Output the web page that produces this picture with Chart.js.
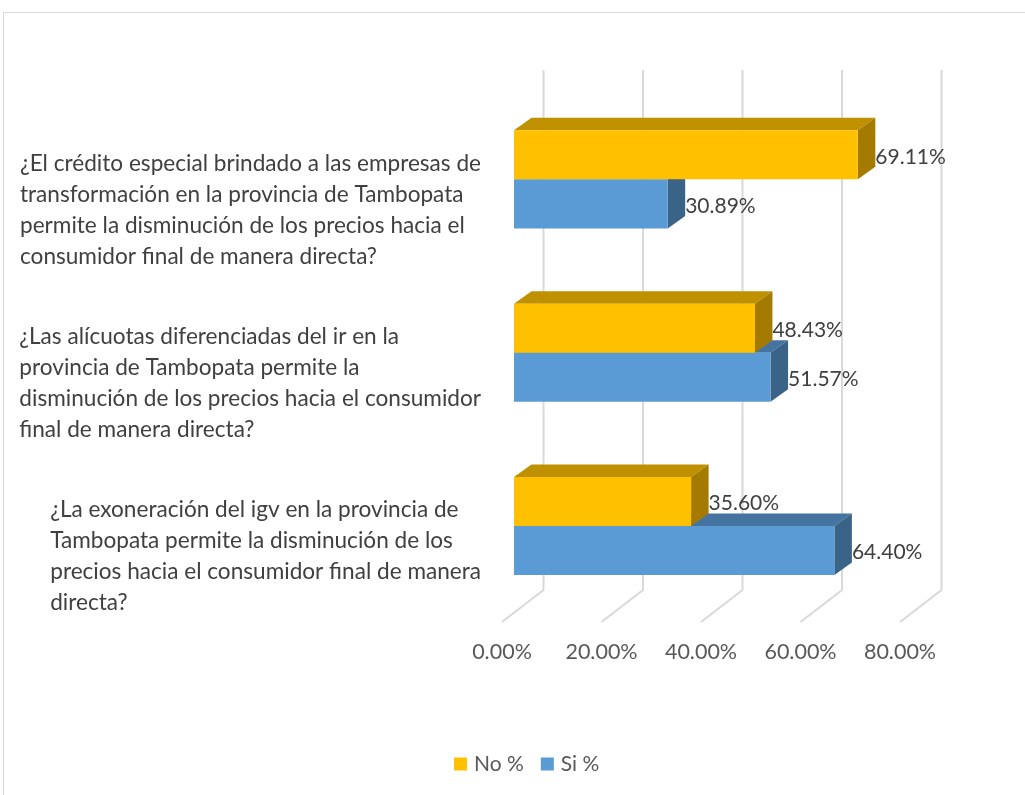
<!DOCTYPE html>
<html>
<head>
<meta charset="utf-8">
<script src="https://cdn.jsdelivr.net/npm/chart.js@4.4.1/dist/chart.umd.min.js"></script>
<style>
  html, body { margin: 0; padding: 0; background: #fff; overflow: hidden; }
  #frame {
    position: absolute; left: 3px; top: 12px; width: 1040px; height: 800px;
    border: 1px solid #d9d9d9; box-sizing: border-box;
  }
  #wrap { position: absolute; left: 0; top: 0; width: 1025px; height: 795px; }
</style>
</head>
<body>
<div id="frame"></div>
<div id="wrap"><canvas id="chart" width="1025" height="795"></canvas></div>
<script>
const categories = [
  ['¿El crédito especial brindado a las empresas de', 'transformación en la provincia de Tambopata', 'permite la disminución de los precios hacia el', 'consumidor final de manera directa?'],
  ['¿Las alícuotas diferenciadas del ir en la', 'provincia de Tambopata permite la', 'disminución de los precios hacia el consumidor', 'final de manera directa?'],
  ['¿La exoneración del igv en la provincia de', 'Tambopata permite la disminución de los', 'precios hacia el consumidor final de manera', 'directa?'],
];
const noValues = [69.11, 48.43, 35.60];
const siValues = [30.89, 51.57, 64.40];
const xTicks = [0, 20, 40, 60, 80];

const FONT = 'Lato, "Open Sans", sans-serif';
const STYLE = {
  no:    { front: '#ffc000', top: '#bf9000', side: '#a47b00' },
  si:    { front: '#5b9bd5', top: '#44749f', side: '#396387' },
  grid:  '#d9d9d9',
  text:  '#404040',
  tick:  '#595959',
};

// depth of the 3D box, measured from the bar front faces
const BAR_D = { x: 17.5, y: -12.5 };   // bar thickness in depth
const BACK_D = { x: 29.5, y: -22.6 };  // back wall
const FRONT_D = { x: -12, y: 9.3 };    // front edge of the floor

const fmt = v => v.toFixed(2) + '%';

function barBox(bar) {
  const p = bar.getProps(['x', 'y', 'base', 'height'], true);
  return { x0: p.base, x1: p.x, y0: p.y - p.height / 2, y1: p.y + p.height / 2 };
}

function poly(ctx, pts, color) {
  ctx.beginPath();
  ctx.moveTo(pts[0][0], pts[0][1]);
  for (let i = 1; i < pts.length; i++) ctx.lineTo(pts[i][0], pts[i][1]);
  ctx.closePath();
  ctx.fillStyle = color;
  ctx.fill();
}

const box3d = {
  id: 'box3d',
  beforeDatasetsDraw(chart) {
    const { ctx, chartArea: a, scales: { x } } = chart;
    ctx.save();
    ctx.strokeStyle = STYLE.grid;
    ctx.lineWidth = 2;
    const backTop = a.top + BACK_D.y;
    const backBottom = a.bottom + BACK_D.y;
    xTicks.forEach(t => {
      const px = x.getPixelForValue(t);
      ctx.beginPath();
      ctx.moveTo(px + BACK_D.x, backTop);
      ctx.lineTo(px + BACK_D.x, backBottom);
      ctx.lineTo(px + FRONT_D.x, a.bottom + FRONT_D.y);
      ctx.stroke();
    });

    // tops and sides, lower series first so the upper bar covers it
    const order = [1, 0];
    order.forEach(di => {
      const st = di === 0 ? STYLE.no : STYLE.si;
      chart.getDatasetMeta(di).data.forEach(bar => {
        const b = barBox(bar);
        poly(ctx, [[b.x0, b.y0], [b.x1, b.y0], [b.x1 + BAR_D.x, b.y0 + BAR_D.y], [b.x0 + BAR_D.x, b.y0 + BAR_D.y]], st.top);
        poly(ctx, [[b.x1, b.y0], [b.x1 + BAR_D.x, b.y0 + BAR_D.y], [b.x1 + BAR_D.x, b.y1 + BAR_D.y], [b.x1, b.y1]], st.side);
      });
    });
    ctx.restore();
  },
  afterDatasetsDraw(chart) {
    const { ctx, chartArea: a, scales: { x, y } } = chart;
    ctx.save();

    // value labels
    ctx.font = '21px ' + FONT;
    ctx.fillStyle = STYLE.text;
    ctx.textBaseline = 'middle';
    ctx.textAlign = 'left';
    chart.data.datasets.forEach((ds, di) => {
      chart.getDatasetMeta(di).data.forEach((bar, i) => {
        const b = barBox(bar);
        ctx.fillText(fmt(ds.data[i]), b.x1 + BAR_D.x, (b.y0 + b.y1) / 2 + 2);
      });
    });

    // x tick labels along the front edge of the floor
    ctx.font = '21.5px ' + FONT;
    ctx.fillStyle = STYLE.tick;
    ctx.textAlign = 'center';
    xTicks.forEach(t => {
      ctx.fillText(fmt(t), x.getPixelForValue(t) + FRONT_D.x, a.bottom + 39);
    });

    // category labels: block right-aligned, lines left-aligned
    ctx.font = '22.6px ' + FONT;
    ctx.fillStyle = STYLE.text;
    ctx.textAlign = 'left';
    const lineH = 31;
    categories.forEach((lines, i) => {
      const w = Math.max(...lines.map(l => ctx.measureText(l).width));
      const left = 481 - w;
      const cy = y.getPixelForValue(i) + 30.5;
      lines.forEach((l, k) => {
        ctx.fillText(l, left, cy + (k - (lines.length - 1) / 2) * lineH);
      });
    });

    // legend
    ctx.font = '21px ' + FONT;
    let lx = 454;
    const ly = 764;
    chart.data.datasets.forEach(ds => {
      ctx.fillStyle = ds.backgroundColor;
      ctx.fillRect(lx, ly - 6.5, 13, 13);
      ctx.fillStyle = STYLE.tick;
      ctx.fillText(ds.label, lx + 20, ly);
      lx += 20 + ctx.measureText(ds.label).width + 17;
    });
    ctx.restore();
  },
};

new Chart(document.getElementById('chart'), {
  type: 'bar',
  data: {
    labels: categories,
    datasets: [
      { label: 'No %', data: noValues, backgroundColor: STYLE.no.front },
      { label: 'Si %', data: siValues, backgroundColor: STYLE.si.front },
    ],
  },
  options: {
    indexAxis: 'y',
    responsive: false,
    animation: false,
    categoryPercentage: 0.566,
    barPercentage: 1,
    layout: { padding: { left: 514, right: 113, top: 92.7, bottom: 182.3 } },
    plugins: { legend: { display: false }, tooltip: { enabled: false } },
    scales: {
      x: { display: false, min: 0, max: 80 },
      y: { display: false },
    },
  },
  plugins: [box3d],
});
</script>
</body>
</html>
